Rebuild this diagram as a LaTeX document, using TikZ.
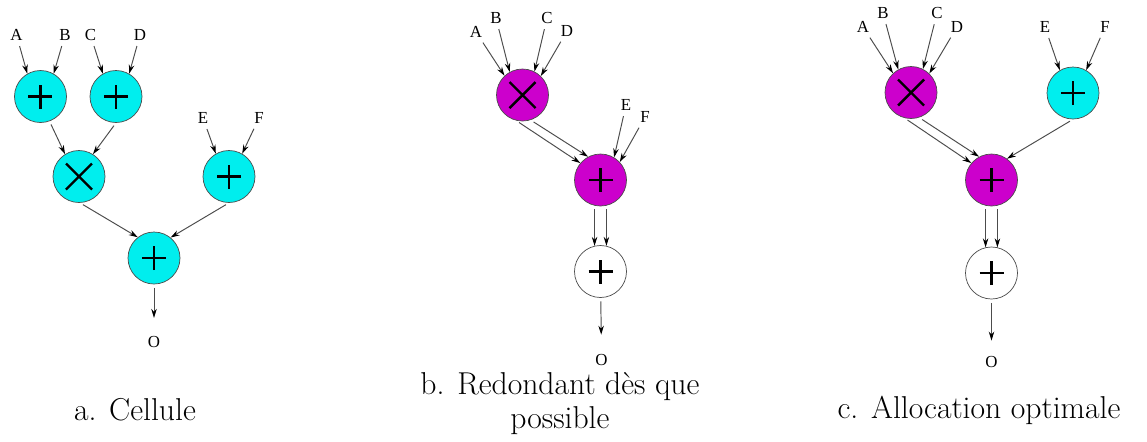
\documentclass[tikz,border=0pt]{standalone}
\usepackage{fontspec}
\newfontfamily\lblfont{Liberation Serif}
\usetikzlibrary{arrows.meta}
\definecolor{opcyan}{RGB}{0,238,238}
\definecolor{opmag}{RGB}{204,0,204}

\begin{document}
\begin{tikzpicture}[
  op/.style={draw=black!70, circle, minimum size=10.4mm, inner sep=0pt},
  addop/.style={op, path picture={\draw[black, line width=1.4pt]
      (path picture bounding box.center) ++(-0.24,0) -- ++(0.48,0)
      (path picture bounding box.center) ++(0,-0.24) -- ++(0,0.48);}},
  mulop/.style={op, path picture={\draw[black, line width=1.4pt]
      (path picture bounding box.center) ++(-0.26,-0.26) -- ++(0.52,0.52)
      (path picture bounding box.center) ++(-0.26,0.26) -- ++(0.52,-0.52);}},
  cy/.style={fill=opcyan}, mg/.style={fill=opmag}, wt/.style={fill=white},
  lbl/.style={font=\lblfont\fontsize{9.6}{10}\selectfont, inner sep=1pt},
  arr/.style={draw=black!70, line width=0.55pt, shorten <=2pt,
      -{Stealth[length=1.8mm, width=1.1mm, color=black]}},
  captxt/.style={font=\fontsize{18}{18.8}\selectfont, align=center, anchor=base}
]
  \useasboundingbox (0,0) rectangle (22.94,-8.82);

  % a. Cellule
  \node[addop, cy] (pa1) at (0.81, -1.93) {};
  \node[addop, cy] (pa2) at (2.32, -1.93) {};
  \node[mulop, cy] (ta)  at (1.58, -3.53) {};
  \node[addop, cy] (pa3) at (4.58, -3.53) {};
  \node[addop, cy] (pa4) at (3.08, -5.16) {};
  \node[lbl] (aA) at (0.33, -0.70) {A};
  \node[lbl] (aB) at (1.30, -0.70) {B};
  \node[lbl] (aC) at (1.81, -0.70) {C};
  \node[lbl] (aD) at (2.80, -0.70) {D};
  \node[lbl] (aE) at (4.06, -2.36) {E};
  \node[lbl] (aF) at (5.18, -2.36) {F};
  \node[lbl] (aO) at (3.08, -6.83) {O};
  \draw[arr] (aA) -- (pa1.120);
  \draw[arr] (aB) -- (pa1.60);
  \draw[arr] (aC) -- (pa2.120);
  \draw[arr] (aD) -- (pa2.60);
  \draw[arr] (aE) -- (pa3.120);
  \draw[arr] (aF) -- (pa3.60);
  \draw[arr] (pa1.-70) -- (ta.122);
  \draw[arr] (pa2.-90) -- (ta.58);
  \draw[arr] (ta.-88) -- (pa4.128);
  \draw[arr] (pa3.-90) -- (pa4.51);
  \draw[arr, shorten >=9pt] (pa4) -- (aO);
  \node[captxt] (capa) at (2.70, -8.40) {a. Cellule};

  % b. Redondant
  \node[mulop, mg] (tb)  at (10.45, -1.90) {};
  \node[addop, mg] (pb1) at (12.01, -3.60) {};
  \node[addop, wt] (pb2) at (12.01, -5.43) {};
  \node[lbl] (bA) at (9.52, -0.64) {A};
  \node[lbl] (bB) at (9.92, -0.36) {B};
  \node[lbl] (bC) at (10.94, -0.36) {C};
  \node[lbl] (bD) at (11.34, -0.62) {D};
  \node[lbl] (bE) at (12.52, -2.10) {E};
  \node[lbl] (bF) at (12.90, -2.34) {F};
  \node[lbl] (bO) at (12.03, -7.20) {O};
  \draw[arr] (bA) -- (tb.133);
  \draw[arr] (bB) -- (tb.119);
  \draw[arr] (bC) -- (tb.63);
  \draw[arr] (bD) -- (tb.46);
  \draw[arr] (bE) -- (pb1.59);
  \draw[arr] (bF) -- (pb1.43);
  \draw[arr] (tb.-104) -- (pb1.140);
  \draw[arr] (tb.-72) -- (pb1.118);
  \draw[arr] (pb1.-103) -- (pb2.103);
  \draw[arr] (pb1.-77) -- (pb2.77);
  \draw[arr, shorten >=10pt] (pb2) -- (bO);
  \node[captxt] (capb) at (11.20, -8.56) {b. Redondant dès que\\possible};

  % c. Allocation optimale
  \node[mulop, mg] (tc)  at (18.22, -1.85) {};
  \node[addop, cy] (pc1) at (21.46, -1.86) {};
  \node[addop, mg] (pc2) at (19.83, -3.60) {};
  \node[addop, wt] (pc3) at (19.83, -5.46) {};
  \node[lbl] (cA) at (17.26, -0.54) {A};
  \node[lbl] (cB) at (17.66, -0.26) {B};
  \node[lbl] (cC) at (18.74, -0.26) {C};
  \node[lbl] (cD) at (19.14, -0.54) {D};
  \node[lbl] (cE) at (20.90, -0.54) {E};
  \node[lbl] (cF) at (22.10, -0.54) {F};
  \node[lbl] (cO) at (19.83, -7.23) {O};
  \draw[arr] (cA) -- (tc.133);
  \draw[arr] (cB) -- (tc.119);
  \draw[arr] (cC) -- (tc.63);
  \draw[arr] (cD) -- (tc.46);
  \draw[arr] (cE) -- (pc1.120);
  \draw[arr] (cF) -- (pc1.60);
  \draw[arr] (tc.-104) -- (pc2.140);
  \draw[arr] (tc.-72) -- (pc2.118);
  \draw[arr] (pc1.-90) -- (pc2.54);
  \draw[arr] (pc2.-103) -- (pc3.103);
  \draw[arr] (pc2.-77) -- (pc3.77);
  \draw[arr, shorten >=7.5pt] (pc3) -- (cO);
  \node[captxt] (capc) at (19.58, -8.36) {c. Allocation optimale};
\end{tikzpicture}
\end{document}
